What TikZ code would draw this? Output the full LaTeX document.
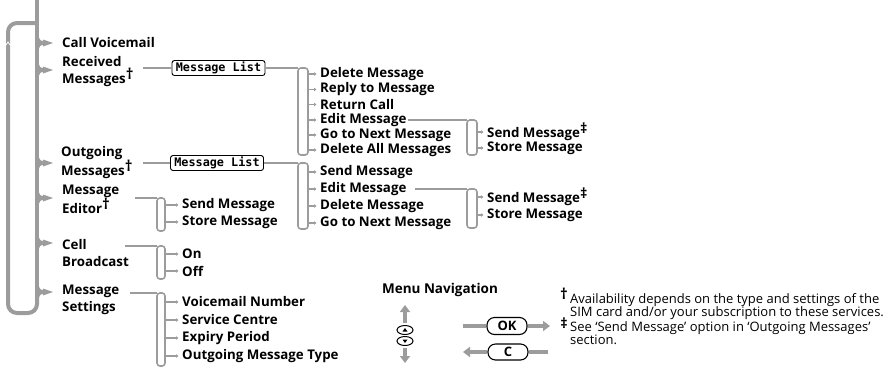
\documentclass[tikz,border=0pt]{standalone}
\usepackage{fontspec}
\setmainfont{Open Sans}
\newfontfamily\lcdfont{DejaVu Sans Mono}
\usetikzlibrary{arrows.meta,shapes.geometric}
\definecolor{lg}{HTML}{9C9C9C}
\newcommand{\dg}{\raisebox{4pt}{\fontsize{15}{15}\selectfont\bfseries †}}
\newcommand{\ddg}{\raisebox{4pt}{\fontsize{14}{14}\selectfont\bfseries ‡}}
\tikzset{
  lbl/.style={font=\bfseries\fontsize{13.3}{17}\selectfont, anchor=west, inner sep=0pt, align=left},
  item/.style={font=\bfseries\fontsize{13.3}{15}\selectfont, anchor=west, inner sep=0pt},
  mainln/.style={draw=lg, line width=4pt, line join=round},
  ln/.style={draw=lg, line width=1.8pt},
  brk/.style={draw=lg, line width=1.6pt, rounded corners=3pt},
  tick/.style={draw=lg, line width=1.2pt, -{Triangle[length=2.5pt,width=3.5pt]}, shorten >=3.5pt},
  mlist/.style={draw=black, line width=0.9pt, rounded corners=2.5pt, font=\lcdfont\bfseries\fontsize{11.8}{12}\selectfont, inner sep=0pt, minimum width=93pt, minimum height=15pt},
  navarr/.style={draw=lg, line width=4pt, -{Triangle[length=7pt,width=10pt]}},
  navln/.style={draw=lg, line width=4pt},
  btn/.style={draw=black, line width=1pt, ellipse, minimum width=16pt, minimum height=9pt, inner sep=0pt},
  pill/.style={draw=black, line width=1.1pt, rounded corners=7.5pt, font=\bfseries\fontsize{13}{13}\selectfont, minimum width=40pt, minimum height=17pt, inner sep=0pt},
  note/.style={font=\fontsize{13}{13}\selectfont, anchor=west, inner sep=0pt, align=left},
}
\begin{document}
\begin{tikzpicture}[x=1pt,y=-1pt]
\useasboundingbox (0,0) rectangle (894,368);
% ---- main menu line ----
\draw[mainln] (37,0) -- (37,300);
\draw[mainln, rounded corners=9pt] (37,296) -- (37,313) -- (8,313) -- (8,23) -- (37,23);
\draw[white, line width=0.7pt] (6,45) -- (8,42) -- (10,45);
\foreach \y/\n in {43/c1,70/c2,163/c3,198/c4,243/c5,292/c6}{
  \coordinate (\n) at (53,\y);
  \draw[mainln, line width=3.5pt] (37,\y-9) .. controls (37,\y-2) and (39,\y) .. (45,\y);
  \draw[mainln, line width=3.5pt] (37,\y+9) .. controls (37,\y+2) and (39,\y) .. (45,\y);
  \fill[lg] (43,\y-3.5) -- (\n) -- (43,\y+3.5) -- cycle;
}
% ---- main labels ----
\node[lbl] (cv) at (62,43) {Call Voicemail};
\node[lbl] (rm) at (62,71.5) {Received\\Messages\dg};
\node[lbl] (om) at (61,162.5) {Outgoing\\Messages\dg};
\node[lbl] (me) at (62,199.5) {Message\\Editor\dg};
\node[lbl] (cb) at (62,253) {Cell\\Broadcast};
\node[lbl] (ms) at (62,300) {Message\\Settings};
% ---- Received Messages ----
\node[mlist] (ml1) at (218.5,68) {Message List};
\coordinate (r0) at (143,68);
\draw[ln] (r0) -- (ml1.west);
\coordinate (b1) at (298,68);
\draw[ln] (ml1.east) -- (b1);
\draw[brk] (b1) rectangle (308,155);
\foreach \y/\t/\n in {74/Delete Message/a1,89.5/Reply to Message/a2,104.5/Return Call/a3,120/Edit Message/a4,135/Go to Next Message/a5,150/Delete All Messages/a6}{
  \node[item] (\n) at (320,\y) {\t};
  \draw[tick] (308,\y) -- (\n.west);
}
\coordinate (b2) at (467,120);
\draw[ln] (a4.east) ++(1,0) -- (b2);
\draw[brk] (b2) rectangle (477,155);
\node[item] (s1) at (487,132) {Send Message\ddg};
\node[item] (s2) at (487,148) {Store Message};
\draw[tick] (477,132) -- (s1.west);
\draw[tick] (477,148) -- (s2.west);
% ---- Outgoing Messages ----
\node[mlist] (ml2) at (217,163) {Message List};
\coordinate (o0) at (143,163);
\draw[ln] (o0) -- (ml2.west);
\coordinate (b3) at (298,163);
\draw[ln] (ml2.east) -- (b3);
\draw[brk] (b3) rectangle (308,229);
\foreach \y/\t/\n in {172/Send Message/d1,189/Edit Message/d2,206/Delete Message/d3,223/Go to Next Message/d4}{
  \node[item] (\n) at (320,\y) {\t};
  \draw[tick] (308,\y) -- (\n.west);
}
\coordinate (b4) at (467,189);
\draw[ln] (d2.east) ++(8,0) -- (b4);
\draw[brk] (b4) rectangle (477,228);
\node[item] (t1) at (487,197) {Send Message\ddg};
\node[item] (t2) at (487,215) {Store Message};
\draw[tick] (477,197) -- (t1.west);
\draw[tick] (477,215) -- (t2.west);
% ---- Message Editor ----
\coordinate (e0) at (135,198);
\coordinate (b5) at (157,198);
\draw[ln] (e0) -- (b5);
\draw[brk] (b5) rectangle (165,231);
\node[item] (f1) at (182,205) {Send Message};
\node[item] (f2) at (182,222) {Store Message};
\draw[tick] (165,205) -- (f1.west);
\draw[tick] (165,222) -- (f2.west);
% ---- Cell Broadcast ----
\coordinate (g0) at (125,246);
\coordinate (b6) at (157,246);
\draw[ln] (g0) -- (b6);
\draw[brk] (b6) rectangle (165,279);
\node[item] (h1) at (182,254) {On};
\node[item] (h2) at (182,271) {Off};
\draw[tick] (165,254) -- (h1.west);
\draw[tick] (165,271) -- (h2.west);
% ---- Message Settings ----
\coordinate (k0) at (130,293);
\coordinate (b7) at (157,293);
\draw[ln] (k0) -- (b7);
\draw[brk] (b7) rectangle (165,366);
\foreach \y/\t/\n in {302/Voicemail Number/m1,320/Service Centre/m2,338/Expiry Period/m3,356/Outgoing Message Type/m4}{
  \node[item] (\n) at (182,\y) {\t};
  \draw[tick] (165,\y) -- (\n.west);
}
% ---- Menu navigation ----
\node[font=\bfseries\fontsize{13.5}{14}\selectfont, inner sep=0pt] (nav) at (440,290) {Menu Navigation};
\node[btn] (bu) at (405,330) {};
\node[btn] (bd) at (405,341) {};
\fill (402.5,331.5) -- (407.5,331.5) -- (405,328) -- cycle;
\fill (402.5,339.5) -- (407.5,339.5) -- (405,343) -- cycle;
\draw[navarr] (bu.north) ++(0,-2) -- (405,305);
\draw[navarr] (bd.south) ++(0,2) -- (405,363);
\node[pill] (ok) at (507,326) {OK};
\node[pill, minimum height=16pt] (cc) at (508,352) {C};
\coordinate (okin) at (463,326);
\coordinate (okout) at (550,326);
\draw[navln] (okin) -- (ok.west);
\draw[navarr] (ok.east) -- (okout);
\coordinate (cin) at (548,352);
\coordinate (cout) at (463,352);
\draw[navln] (cin) -- (cc.east);
\draw[navarr] (cc.west) -- (cout);
% ---- footnotes ----
\node[font=\bfseries\fontsize{15}{15}\selectfont, inner sep=0pt] (fd1) at (564,294) {†};
\node[note] (n1) at (570,306.5) {Availability depends on the type and settings of the\\SIM card and/or your subscription to these services.};
\node[font=\bfseries\fontsize{14}{14}\selectfont, inner sep=0pt] (fd2) at (564,323) {‡};
\node[note] (n2) at (570,333.5) {See ‘Send Message’ option in ‘Outgoing Messages’\\section.};
\end{tikzpicture}
\end{document}
